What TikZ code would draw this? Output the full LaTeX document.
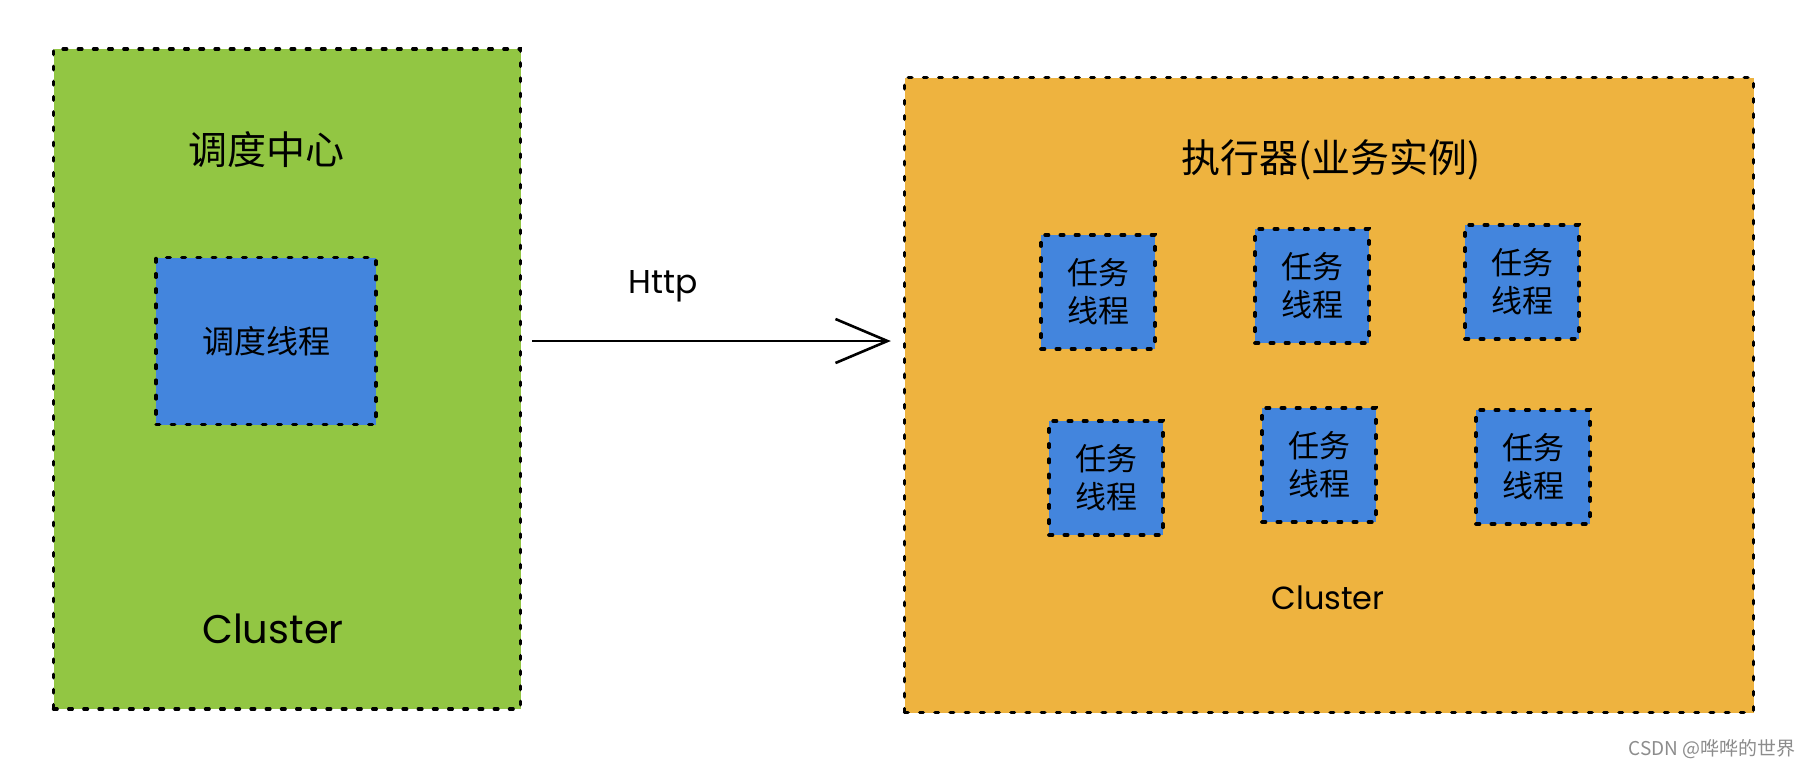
\documentclass[tikz,border=0pt]{standalone}
\usepackage{fontspec}
\setmainfont{Noto Sans CJK SC}
\newfontfamily\handfont{Poppins}
\usetikzlibrary{arrows.meta,positioning}
\definecolor{dispatch}{HTML}{92C643}
\definecolor{executor}{HTML}{EEB33F}
\definecolor{thread}{HTML}{4385DD}

\begin{document}
\begin{tikzpicture}[x=0.5pt,y=-0.5pt,>={Straight Barb[length=26pt,width=22pt]},
  sketch/.style={draw=black,line width=1.7pt,dash pattern=on 1.8pt off 5.8pt,line cap=round},
  cluster/.style={sketch,rectangle,inner sep=0pt},
  worker/.style={sketch,fill=thread,minimum width=57pt,minimum height=57pt,
    align=center,font=\fontsize{15.5}{19}\selectfont},
  hand/.style={font=\handfont\fontsize{#1}{#1}\selectfont},
  every node/.style={font=\fontsize{19.5}{23}\selectfont}]
\useasboundingbox (0,0) rectangle (1814,768);
% two clusters
\node[cluster,fill=dispatch,minimum width=233.5pt,minimum height=330pt] (center) at (287,379) {};
\node[cluster,fill=executor,minimum width=424.5pt,minimum height=317.5pt] (exec) at (1329,395) {};
\node at (266,150) {调度中心};
\node[worker,minimum width=110pt,minimum height=83.5pt,font=\fontsize{16}{19}\selectfont] (sched) at (266,341) {调度线程};
\node[hand=20] at (273,629) {Cluster};
\node at (1331,160) {执行器(业务实例)};
\foreach \i/\x/\y in {1/1098/292,2/1312/286,3/1522/282,4/1106/478,5/1319/465,6/1533/467}{
  \node[worker] (task\i) at (\x,\y) {任务\\线程};}
\node[hand=16] at (1328,598) {Cluster};
% call
\draw[->,line width=1.3pt,shorten <=5pt,shorten >=6pt] (center.east |- sched) -- (exec.west |- sched)
  node[pos=0.37,above=15.5pt,hand=16.5] {Http};
\node[text=black!45,font=\fontsize{9.5}{11}\selectfont] at (1712,749) {CSDN @哗哗的世界};
\end{tikzpicture}
\end{document}
